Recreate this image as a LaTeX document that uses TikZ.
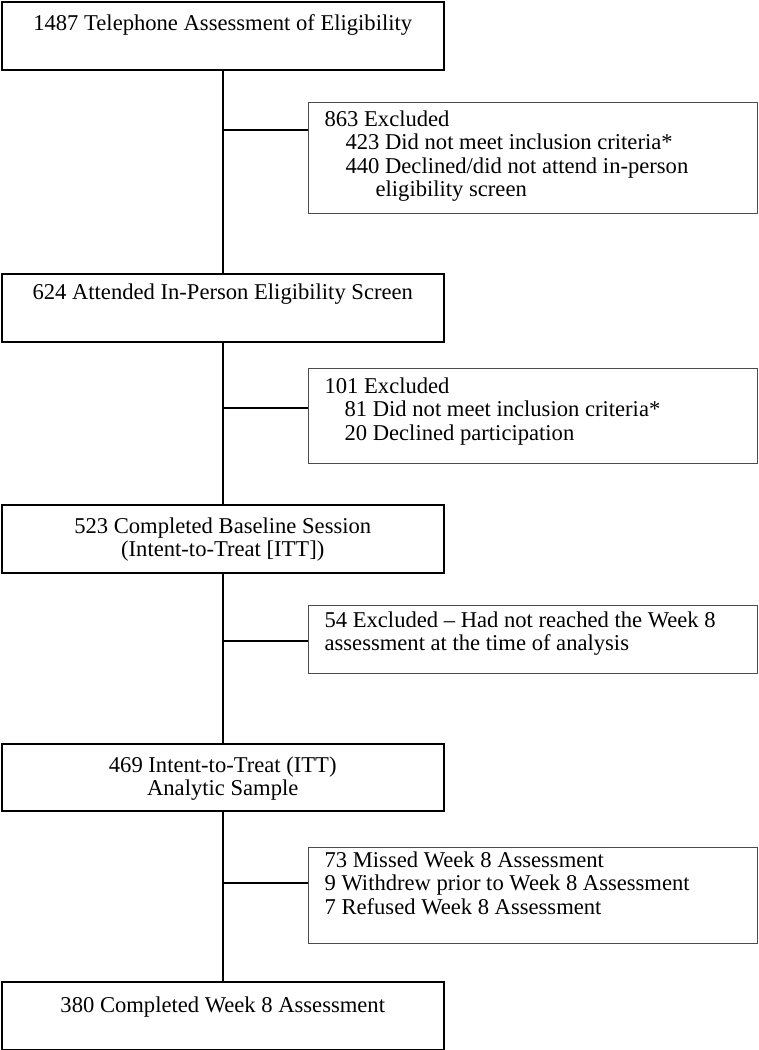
\documentclass[tikz,border=0pt]{standalone}
\usepackage{fontspec}
\setmainfont{Liberation Serif}
\newcommand{\mtext}[3]{\parbox[c][#1pt][t]{442pt}{\centering\fontsize{22.6}{23.2}\selectfont\rule{0pt}{#2pt}#3}}
\newcommand{\etext}[3]{\parbox[c][#1pt][t]{449pt}{\raggedright\leftskip=16pt\fontsize{22.6}{23.2}\selectfont\rule{0pt}{#2pt}#3}}
\tikzset{
  mainbox/.style={draw=black, line width=1.5pt, inner sep=0pt, anchor=north west},
  exbox/.style={draw=black!70, line width=1.2pt, inner sep=0pt, anchor=north west},
  conn/.style={line width=1.6pt, draw=black}
}
\begin{document}
\begin{tikzpicture}[x=1pt,y=-1pt]
\useasboundingbox (0,0) rectangle (759,1050);
\node[mainbox] (b1) at (1,1) {\mtext{68}{29}{1487 Telephone Assessment of Eligibility}};
\node[mainbox] (b2) at (1,273) {\mtext{68}{26}{624 Attended In-Person Eligibility Screen}};
\node[mainbox] (b3) at (1,504) {\mtext{68}{29}{523 Completed Baseline Session\\(Intent-to-Treat [ITT])}};
\node[mainbox] (b4) at (1,743) {\mtext{67}{29}{469 Intent-to-Treat (ITT)\\Analytic Sample}};
\node[mainbox] (b5) at (1,981) {\mtext{68}{31}{380 Completed Week 8 Assessment}};

\node[exbox] (e1) at (308,102) {\etext{111}{24}{863 Excluded\\\hspace*{21pt}423 Did not meet inclusion criteria*\\\hspace*{21pt}440 Declined/did not attend in-person\\\hspace*{51pt}eligibility screen}};
\node[exbox] (e2) at (308,368) {\etext{95}{25}{101 Excluded\\\hspace*{20pt}81 Did not meet inclusion criteria*\\\hspace*{20pt}20 Declined participation}};
\node[exbox] (e3) at (308,605) {\etext{68}{22}{54 Excluded – Had not reached the Week 8\\assessment at the time of analysis}};
\node[exbox] (e4) at (308,847) {\etext{96}{20}{73 Missed Week 8 Assessment\\9 Withdrew prior to Week 8 Assessment\\7 Refused Week 8 Assessment}};

\draw[conn] (b1.south) -- (b2.north);
\draw[conn] (b2.south) -- (b3.north);
\draw[conn] (b3.south) -- (b4.north);
\draw[conn] (b4.south) -- (b5.north);

\coordinate (j1) at (b1.south |- 0,130);
\coordinate (j2) at (b2.south |- 0,408);
\coordinate (j3) at (b3.south |- 0,641);
\coordinate (j4) at (b4.south |- 0,883);
\draw[conn] (j1) -- (j1 -| e1.west);
\draw[conn] (j2) -- (j2 -| e2.west);
\draw[conn] (j3) -- (j3 -| e3.west);
\draw[conn] (j4) -- (j4 -| e4.west);
\end{tikzpicture}
\end{document}
